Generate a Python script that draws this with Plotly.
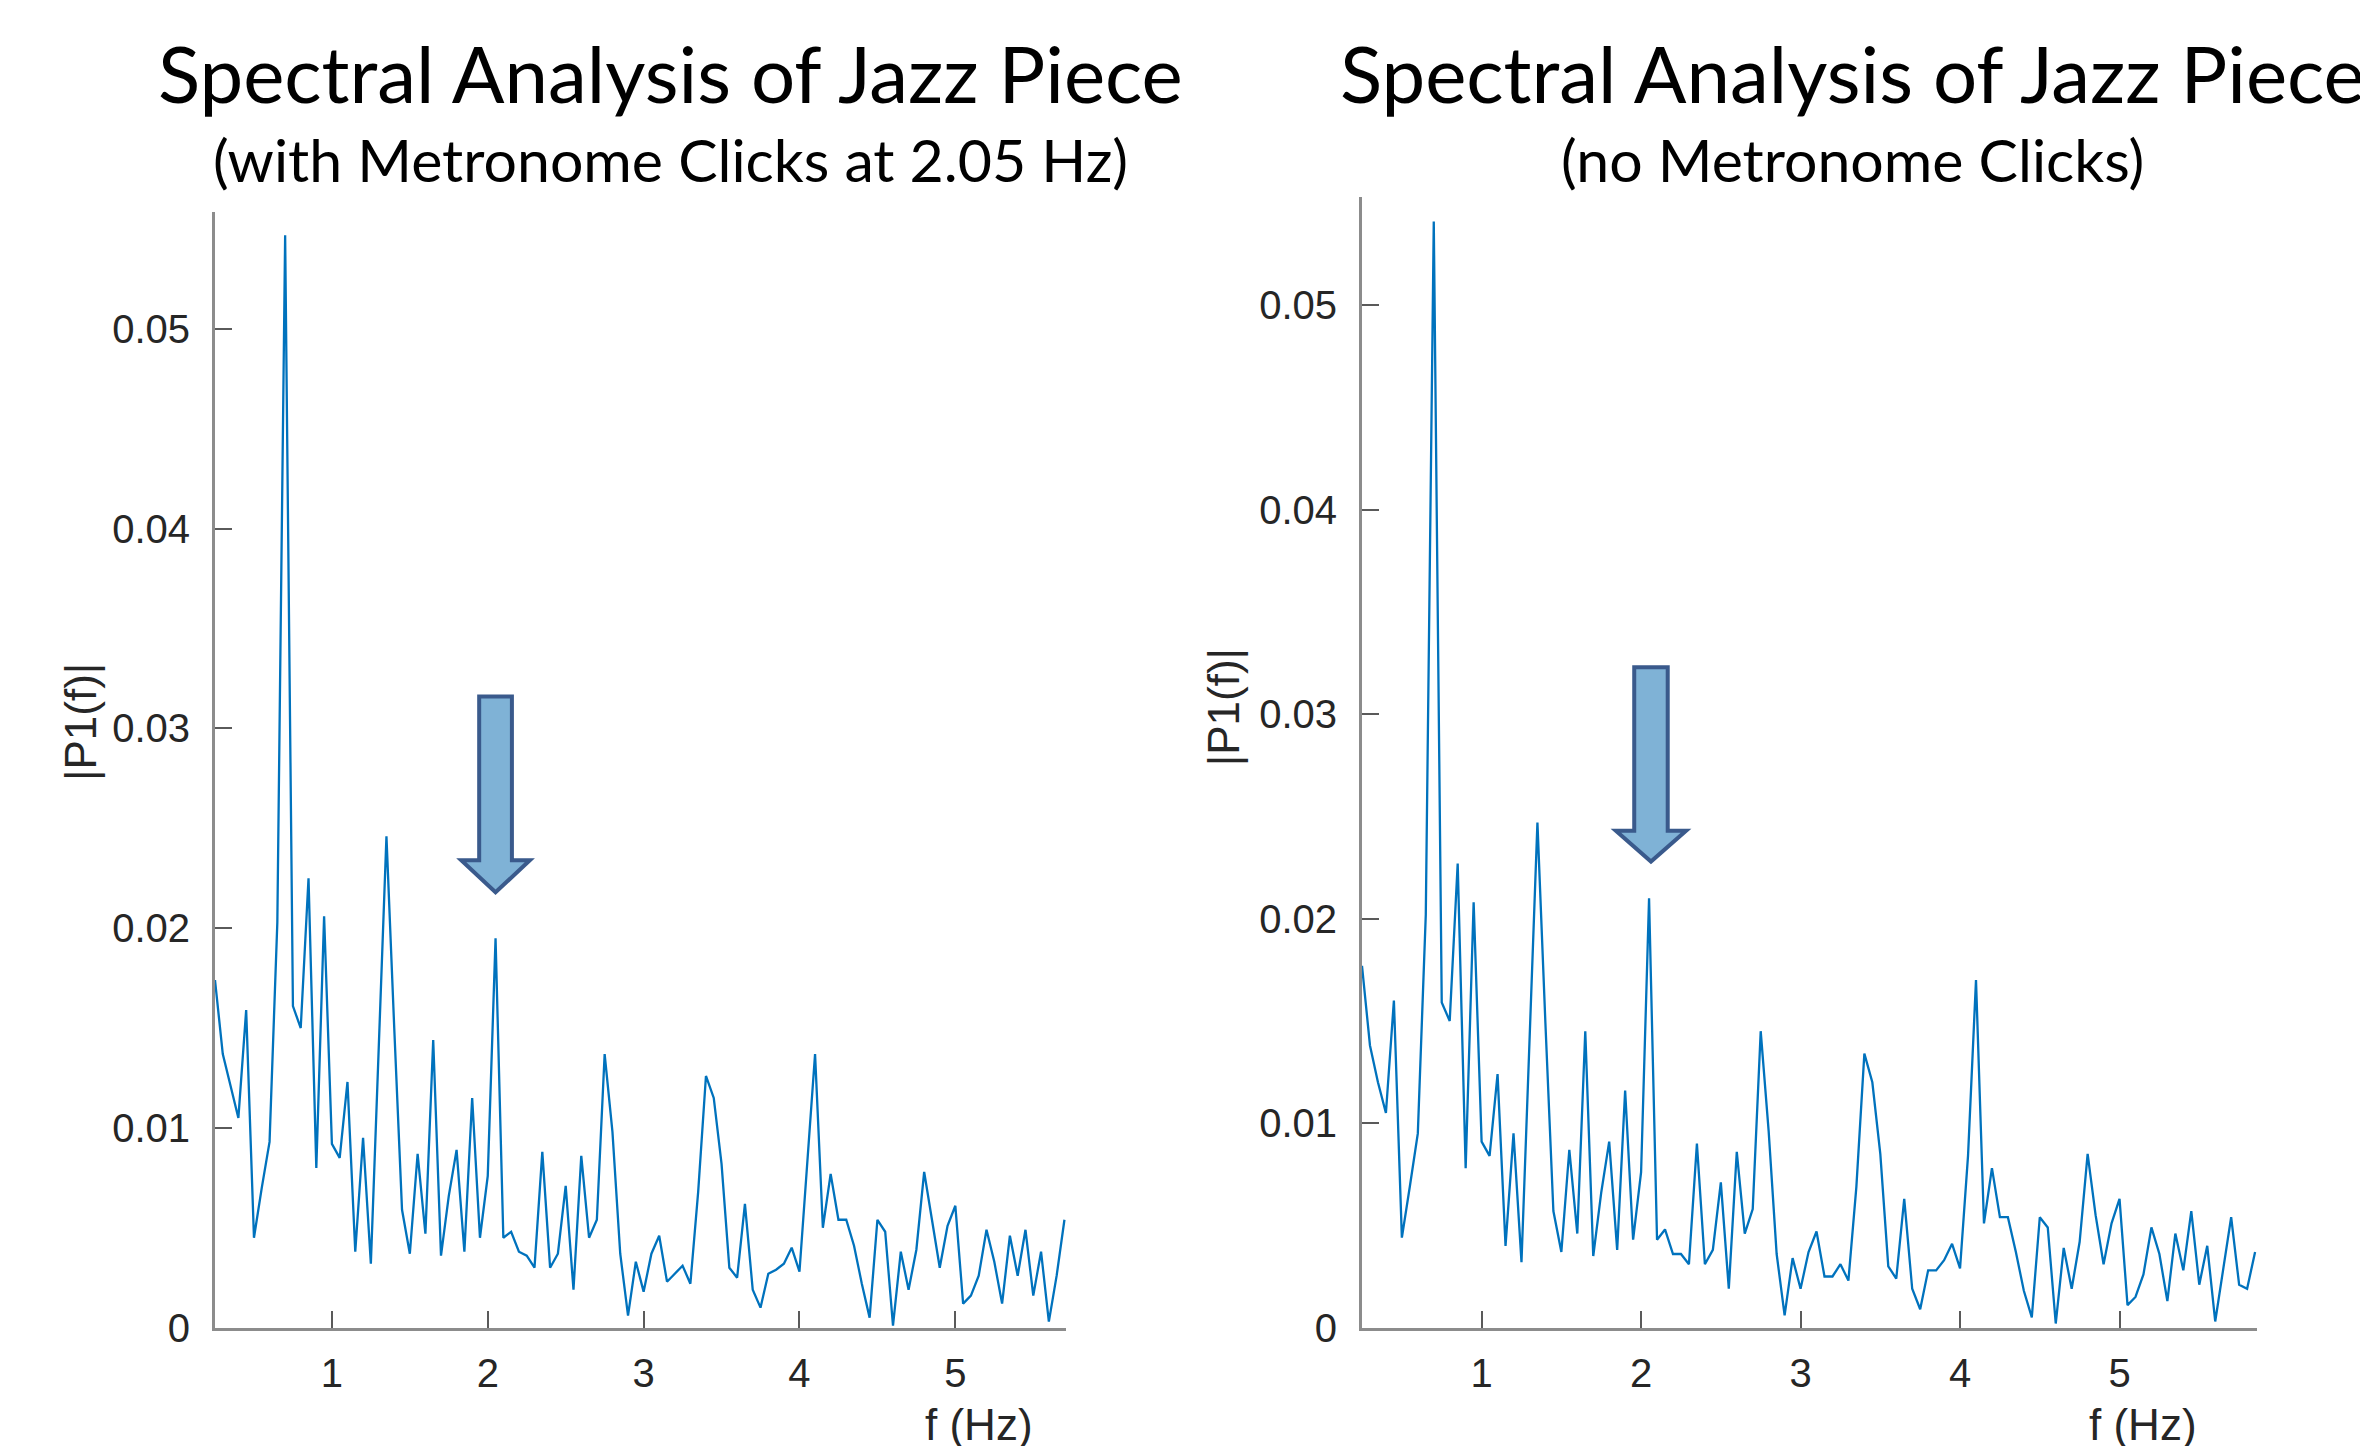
import numpy as np
import plotly.graph_objects as go

# ---------------- data ----------------
F_START = 0.25
DF = 0.05

p1_with_clicks = [
    0.0174, 0.0137, 0.0121, 0.0105, 0.0159, 0.0045, 0.0070, 0.0093, 0.0203, 0.0547,
    0.0161, 0.0150, 0.0225, 0.0080, 0.0206, 0.0092, 0.0085, 0.0123, 0.0038, 0.0095,
    0.0032, 0.0139, 0.0246, 0.0150, 0.0059, 0.0037, 0.0087, 0.0047, 0.0144, 0.0036,
    0.0066, 0.0089, 0.0038, 0.0115, 0.0045, 0.0076, 0.0195, 0.0045, 0.0048, 0.0038,
    0.0036, 0.0030, 0.0088, 0.0030, 0.0037, 0.0071, 0.0019, 0.0086, 0.0045, 0.0054,
    0.0137, 0.0098, 0.0037, 0.0006, 0.0033, 0.0018, 0.0037, 0.0046, 0.0023, 0.0027,
    0.0031, 0.0022, 0.0068, 0.0126, 0.0115, 0.0082, 0.0030, 0.0025, 0.0062, 0.0019,
    0.0010, 0.0027, 0.0029, 0.0032, 0.0040, 0.0028, 0.0082, 0.0137, 0.0050, 0.0077,
    0.0054, 0.0054, 0.0041, 0.0022, 0.0005, 0.0054, 0.0048, 0.0001, 0.0038, 0.0019,
    0.0039, 0.0078, 0.0054, 0.0030, 0.0051, 0.0061, 0.0012, 0.0016, 0.0026, 0.0049,
    0.0033, 0.0012, 0.0046, 0.0026, 0.0049, 0.0016, 0.0038, 0.0003, 0.0026, 0.0054,
]

p1_no_clicks = [
    0.0177, 0.0138, 0.0120, 0.0105, 0.0160, 0.0044, 0.0069, 0.0095, 0.0202, 0.0541,
    0.0159, 0.0150, 0.0227, 0.0078, 0.0208, 0.0091, 0.0084, 0.0124, 0.0040, 0.0095,
    0.0032, 0.0138, 0.0247, 0.0149, 0.0057, 0.0037, 0.0087, 0.0046, 0.0145, 0.0035,
    0.0066, 0.0091, 0.0038, 0.0116, 0.0043, 0.0076, 0.0210, 0.0043, 0.0048, 0.0036,
    0.0036, 0.0031, 0.0090, 0.0031, 0.0038, 0.0071, 0.0019, 0.0086, 0.0046, 0.0058,
    0.0145, 0.0096, 0.0036, 0.0006, 0.0034, 0.0019, 0.0037, 0.0047, 0.0025, 0.0025,
    0.0031, 0.0023, 0.0069, 0.0134, 0.0120, 0.0085, 0.0030, 0.0024, 0.0063, 0.0019,
    0.0009, 0.0028, 0.0028, 0.0033, 0.0041, 0.0029, 0.0084, 0.0170, 0.0051, 0.0078,
    0.0054, 0.0054, 0.0037, 0.0018, 0.0005, 0.0054, 0.0049, 0.0002, 0.0039, 0.0019,
    0.0042, 0.0085, 0.0055, 0.0031, 0.0051, 0.0063, 0.0011, 0.0015, 0.0026, 0.0049,
    0.0036, 0.0013, 0.0046, 0.0028, 0.0057, 0.0021, 0.0040, 0.0003, 0.0029, 0.0054,
    0.0021, 0.0019, 0.0037,
]

f_with = np.round(F_START + DF * np.arange(len(p1_with_clicks)), 2)
f_no = np.round(F_START + DF * np.arange(len(p1_no_clicks)), 2)

x_tick_vals = [1, 2, 3, 4, 5]
x_tick_text = ["1", "2", "3", "4", "5"]
y_tick_vals = [0, 0.01, 0.02, 0.03, 0.04, 0.05]
y_tick_text = ["0", "0.01", "0.02", "0.03", "0.04", "0.05"]

titles_left = ["Spectral Analysis of Jazz Piece", "(with Metronome Clicks at 2.05 Hz)"]
titles_right = ["Spectral Analysis of Jazz Piece", "(no Metronome Clicks)"]
y_label = "|P1(f)|"
x_label = "f (Hz)"

click_freq = 2.05

# ---------------- figure ----------------
W, H = 2368, 1446
LINE = "#0072BD"
AX = "#8c8c8c"
TXT = "#262626"

fig = go.Figure()
fig.add_trace(go.Scatter(x=f_with, y=p1_with_clicks, mode="lines",
                         line=dict(color=LINE, width=2.3), xaxis="x", yaxis="y",
                         showlegend=False, hoverinfo="x+y"))
fig.add_trace(go.Scatter(x=f_no, y=p1_no_clicks, mode="lines",
                         line=dict(color=LINE, width=2.3), xaxis="x2", yaxis="y2",
                         showlegend=False, hoverinfo="x+y"))


def px(x):
    return x / W


def py(y):
    return 1 - y / H


axis_common = dict(showline=True, linecolor=AX, linewidth=3, mirror=False,
                   ticks="inside", ticklen=17, tickwidth=2, tickcolor="#5a5a5a",
                   showgrid=False, zeroline=False,
                   tickfont=dict(family="Liberation Sans, Arial", size=40, color=TXT))

fig.update_layout(
    width=W, height=H,
    margin=dict(l=0, r=0, t=0, b=0),
    paper_bgcolor="white", plot_bgcolor="white",
    xaxis=dict(domain=[px(207), px(1058)], range=[0.25, 5.71], anchor="y",
               tickvals=x_tick_vals, ticktext=x_tick_text, ticklabelstandoff=8,
               **axis_common),
    yaxis=dict(domain=[py(1340), py(207)], range=[0, 0.05587], anchor="x",
               tickvals=y_tick_vals, ticktext=y_tick_text, ticklabelstandoff=14,
               **axis_common),
    xaxis2=dict(domain=[px(1354), px(2249)], range=[0.25, 5.862], anchor="y2",
                tickvals=x_tick_vals, ticktext=x_tick_text, ticklabelstandoff=8,
                **axis_common),
    yaxis2=dict(domain=[py(1340), py(192)], range=[0, 0.0553], anchor="x2",
                tickvals=y_tick_vals, ticktext=y_tick_text, ticklabelstandoff=14,
                **axis_common),
)

# titles
TITLE_FONT = "Lato, Open Sans, sans-serif"
annots = []
for cx, lines in ((662, titles_left), (1844, titles_right)):
    annots.append(dict(x=px(cx), y=py(66), xref="paper", yref="paper", text=lines[0],
                       showarrow=False, xanchor="center", yanchor="middle",
                       font=dict(family=TITLE_FONT, size=78, color="black")))
    annots.append(dict(x=px(cx), y=py(154), xref="paper", yref="paper", text=lines[1],
                       showarrow=False, xanchor="center", yanchor="middle",
                       font=dict(family=TITLE_FONT, size=59, color="black")))

# axis labels
for cx, cy in ((73, 725), (1215, 710)):
    annots.append(dict(x=px(cx), y=py(cy), xref="paper", yref="paper", text=y_label,
                       showarrow=False, textangle=-90, xanchor="center", yanchor="middle",
                       font=dict(family="Liberation Sans, Arial", size=44, color=TXT)))
for cx in (971, 2135):
    annots.append(dict(x=px(cx), y=py(1438), xref="paper", yref="paper", text=x_label,
                       showarrow=False, xanchor="center", yanchor="middle",
                       font=dict(family="Liberation Sans, Arial", size=44, color=TXT)))
fig.update_layout(annotations=annots)

# highlight arrows pointing at the click frequency
arrow_geom = [
    # xref, yref, centre offset, top, wing level, tip
    ("x", "y", 0.0, 0.0316, 0.0234, 0.0218),
    ("x2", "y2", 0.012, 0.0323, 0.0243, 0.0228),
]
SHAFT_HALF = 0.105
WING_HALF = 0.22
for xr, yr, off, top, wing, tip in arrow_geom:
    c = click_freq + off
    path = (f"M {c - SHAFT_HALF},{top} L {c + SHAFT_HALF},{top} L {c + SHAFT_HALF},{wing} "
            f"L {c + WING_HALF},{wing} L {c},{tip} L {c - WING_HALF},{wing} "
            f"L {c - SHAFT_HALF},{wing} Z")
    fig.add_shape(type="path", path=path, xref=xr, yref=yr,
                  fillcolor="#7FB2D6", line=dict(color="#3A5A8C", width=4), layer="above")

fig.write_html("out.html")
